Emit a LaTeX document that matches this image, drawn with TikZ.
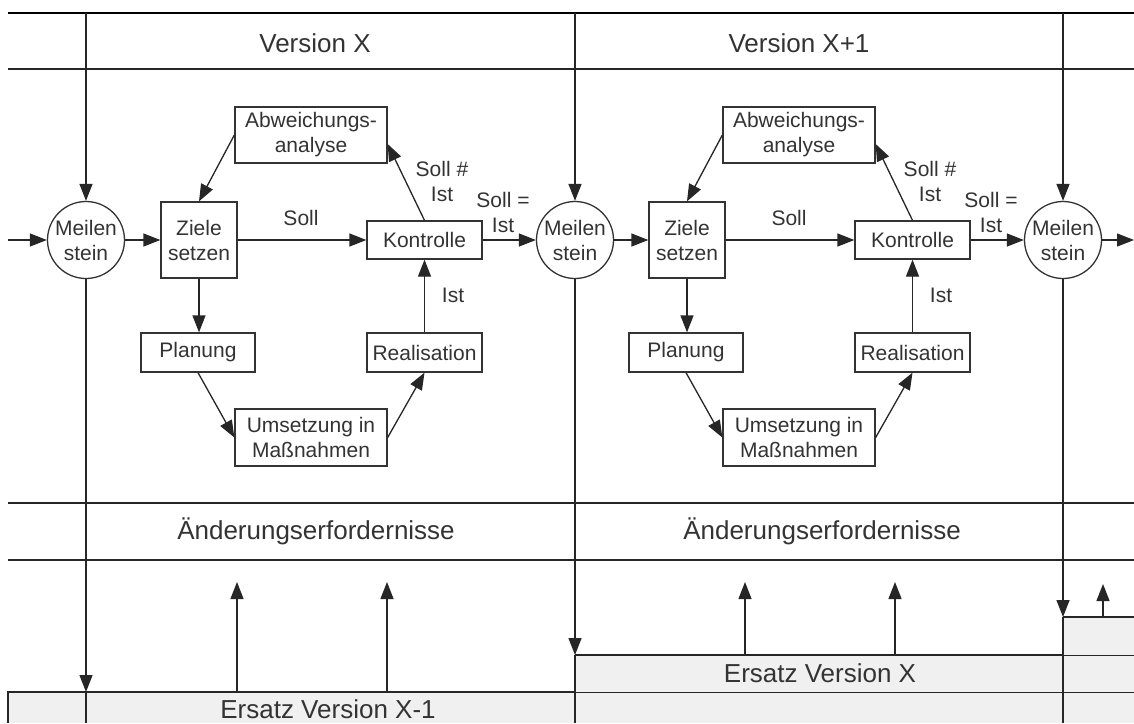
\documentclass[tikz,border=0pt]{standalone}
\usepackage{fontspec}
\setmainfont{Liberation Sans}
\usetikzlibrary{arrows.meta,calc}
\begin{document}
\begin{tikzpicture}[x=1pt,y=-1pt,
  line/.style={draw=black!85, line width=1.3pt},
  arr/.style={line, -{Triangle[length=17pt,width=13pt]}},
  box/.style={draw=black!80, line width=1.3pt, fill=white, inner sep=0pt, align=center,
    font=\fontsize{21}{25}\selectfont, text=black!80},
  ms/.style={circle, draw=black!80, line width=1.3pt, fill=white, inner sep=0pt, minimum size=77pt},
  lbl/.style={font=\fontsize{21}{25}\selectfont, align=center, text=black!80, inner sep=0pt},
  title/.style={font=\fontsize{26}{30}\selectfont, text=black!80, inner sep=0pt},
  ersatz/.style={fill=black!6}
]
\useasboundingbox (0,0) rectangle (1134,723);
\fill[white] (0,0) rectangle (1134,723);

% Ersatz boxes
\fill[ersatz] (8,692) rectangle (1134,723);
\draw[line] (8,723) -- (8,692) -- (1134,692);
\fill[ersatz] (575,655) rectangle (1134,692);
\draw[line] (575,655) -- (1134,655);
\fill[ersatz] (1063,617) rectangle (1134,655);
\draw[line] (1063,617) -- (1134,617);
\node[title] (e1) at (328,709) {Ersatz Version X-1};
\node[title] (e2) at (820,673) {Ersatz Version X};

% horizontal band lines
\draw[line, line width=1.6pt, draw=black] (8,13) -- (1134,13);
\draw[line] (8,69) -- (1134,69);
\draw[line] (8,503) -- (1134,503);
\draw[line] (8,560) -- (1134,560);

% titles
\node[title] (v1) at (315,43) {Version X};
\node[title] (v2) at (799,43) {Version X+1};
\node[title] (a1) at (316,531) {Änderungserfordernisse};
\node[title] (a2) at (822,531) {Änderungserfordernisse};

% milestones
\node[ms, label={[lbl]center:Meilen\\stein}] (M1) at (86,240) {};
\node[ms, label={[lbl]center:Meilen\\stein}] (M2) at (575,240) {};
\node[ms, label={[lbl]center:Meilen\\stein}] (M3) at (1063,240) {};

\coordinate (t1) at (86,13);   \coordinate (t2) at (575,13);   \coordinate (t3) at (1063,13);
\coordinate (b1) at (86,692);  \coordinate (b2) at (575,655);  \coordinate (b3) at (1063,617);
\coordinate (e1b) at (86,723); \coordinate (e2b) at (575,723); \coordinate (e3b) at (1063,723);
\coordinate (Lin) at (8,240);  \coordinate (Rout) at (1134,240);

\foreach \k in {1,2,3}{
  \draw[arr] (t\k) -- (M\k);
  \draw[arr] (M\k) -- (b\k);
  \draw[line] (b\k) -- (e\k b);
}
\draw[arr] (Lin) -- (M1);
\draw[arr] (M3) -- (Rout);

% columns
\foreach \i/\dx/\j in {1/0/2, 2/488/3}{
  \node[box, minimum width=76pt, minimum height=76pt] (Z\i) at (199+\dx,240) {Ziele\\setzen};
  \node[box, minimum width=115pt, minimum height=38pt] (K\i) at (424.5+\dx,240) {Kontrolle};
  \node[box, minimum width=152pt, minimum height=56pt] (A\i) at (311+\dx,135) {Abweichungs-\\analyse};
  \node[box, minimum width=114pt, minimum height=39pt] (P\i) at (198+\dx,352.5) {Planung};
  \node[box, minimum width=115pt, minimum height=39pt] (R\i) at (424.5+\dx,352.5) {Realisation};
  \node[box, minimum width=152pt, minimum height=57pt] (U\i) at (311+\dx,437.5) {Umsetzung in\\Maßnahmen};

  \node[lbl] (ls\i) at (301+\dx,218) {Soll};
  \node[lbl] (ln\i) at (442+\dx,181) {Soll \#\\Ist};
  \node[lbl] (le\i) at (503+\dx,212) {Soll =\\Ist};
  \node[lbl] (li\i) at (453+\dx,295) {Ist};

  \draw[arr] (M\i) -- (Z\i);
  \draw[arr] (Z\i) -- (K\i);
  \draw[arr] (K\i.north) -- ([yshift=-9pt]A\i.east);
  \draw[arr] (A\i.west) -- (Z\i.north);
  \draw[arr] (Z\i.south) -- (Z\i.south |- P\i.north);
  \draw[arr] (P\i.south) -- (U\i.west);
  \draw[arr] (U\i.east) -- (R\i.south);
  \draw[arr] (R\i) -- (K\i);
  \draw[arr] (K\i) -- (M\j);
}

% up arrows to Änderungserfordernisse
\coordinate (u1s) at (237,692); \coordinate (u1e) at (237,582);
\coordinate (u2s) at (387,692); \coordinate (u2e) at (387,582);
\coordinate (u3s) at (745,655); \coordinate (u3e) at (745,582);
\coordinate (u4s) at (895,655); \coordinate (u4e) at (895,582);
\coordinate (u5s) at (1103,617); \coordinate (u5e) at (1103,584);
\foreach \k in {1,...,5}{
  \draw[arr] (u\k s) -- (u\k e);
}
\end{tikzpicture}
\end{document}
